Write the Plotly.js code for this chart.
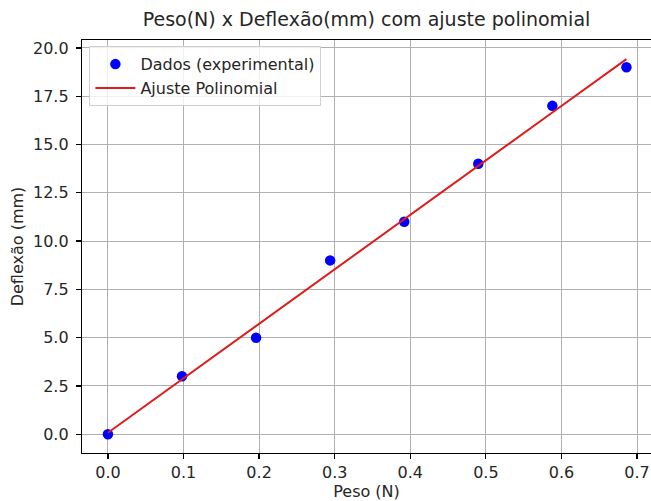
<!DOCTYPE html>
<html>
<head>
<meta charset="utf-8">
<script src="https://cdn.plot.ly/plotly-3.0.1.min.js"></script>
<style>html,body{margin:0;padding:0;background:#fff;}#chart{width:651px;height:501px;}</style>
</head>
<body>
<div id="chart"></div>
<script>
// Data
const peso = [0.0, 0.098, 0.196, 0.294, 0.392, 0.49, 0.588, 0.686];
const deflexao = [0, 3, 5, 9, 11, 14, 17, 19];
const ajuste = [0.08, 2.85, 5.61, 8.37, 11.13, 13.89, 16.66, 19.42];
const xTicks = [0.0, 0.1, 0.2, 0.3, 0.4, 0.5, 0.6, 0.7];
const xTickLabels = ["0.0", "0.1", "0.2", "0.3", "0.4", "0.5", "0.6", "0.7"];
const yTicks = [0, 2.5, 5, 7.5, 10, 12.5, 15, 17.5, 20];
const yTickLabels = ["0.0", "2.5", "5.0", "7.5", "10.0", "12.5", "15.0", "17.5", "20.0"];

const font = "DejaVu Sans, sans-serif";

const traces = [
  {
    x: peso, y: deflexao, type: "scatter", mode: "markers",
    name: "Dados (experimental)",
    marker: {color: "#0000ff", size: 10.5}
  },
  {
    x: peso, y: ajuste, type: "scatter", mode: "lines",
    name: "Ajuste Polinomial",
    line: {color: "#e01b1c", width: 2}
  }
];

const axisCommon = {
  showline: true, linecolor: "#000", linewidth: 1.2,
  showgrid: true, gridcolor: "#b0b0b0", gridwidth: 1,
  ticks: "outside", ticklen: 5, tickcolor: "#000", tickwidth: 1.2,
  zeroline: false,
  tickfont: {family: font, size: 16, color: "#262626"}
};

const layout = {
  width: 651, height: 501,
  margin: {l: 82, r: 0, t: 40, b: 48},
  paper_bgcolor: "#fff", plot_bgcolor: "#fff",
  title: {text: "Peso(N) x Deflexão(mm) com ajuste polinomial",
          font: {family: font, size: 19, color: "#262626"},
          x: 0.5, xanchor: "center", y: 0.962, yanchor: "middle", xref: "paper"},
  xaxis: Object.assign({}, axisCommon, {
    mirror: true,
    range: [-0.0343, 0.7185],
    tickvals: xTicks, ticktext: xTickLabels,
    ticklabelstandoff: 0,
    title: {text: "Peso (N)", font: {family: font, size: 16, color: "#262626"}, standoff: 4}
  }),
  yaxis: Object.assign({}, axisCommon, {
    mirror: false,
    range: [-0.97, 20.41],
    tickvals: yTicks, ticktext: yTickLabels,
    ticklabelstandoff: 4,
    title: {text: "Deflexão (mm)", font: {family: font, size: 16, color: "#262626"}, standoff: 5}
  }),
  showlegend: true,
  legend: {
    x: 0.013, y: 0.985, xanchor: "left", yanchor: "top",
    bgcolor: "rgba(255,255,255,0.8)", bordercolor: "#d0d0d0", borderwidth: 1,
    font: {family: font, size: 16, color: "#262626"},
    itemwidth: 40,
    traceorder: "normal", tracegroupgap: 0
  }
};

Plotly.newPlot("chart", traces, layout, {displayModeBar: false, staticPlot: true});
</script>
</body>
</html>
